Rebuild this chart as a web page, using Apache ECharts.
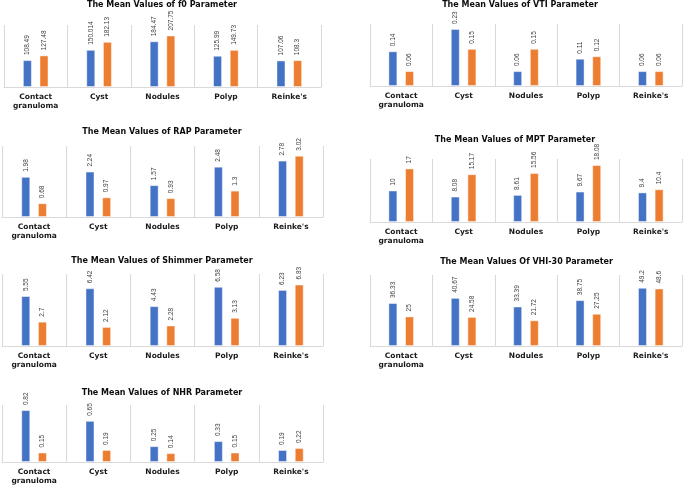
<!DOCTYPE html>
<html>
<head>
<meta charset="utf-8">
<script src="https://cdn.jsdelivr.net/npm/echarts@6/dist/echarts.min.js"></script>
<style>
html,body{margin:0;padding:0;background:#fff;}
#chart{width:685px;height:485px;}
</style>
</head>
<body>
<div id="chart"></div>
<script>
// ---- Data ----
var categories = ['Contact\ngranuloma', 'Cyst', 'Nodules', 'Polyp', "Reinke's"];

var titles = [
  'The Mean Values of f0 Parameter',
  'The Mean Values of VTI Parameter',
  'The Mean Values of RAP Parameter',
  'The Mean Values of MPT Parameter',
  'The Mean Values of Shimmer Parameter',
  'The Mean Values Of VHI-30 Parameter',
  'The Mean Values of NHR Parameter'
];

var f0Blue   = [108.49, 150.014, 184.47, 125.99, 107.06];
var f0Orange = [127.48, 182.13, 207.75, 149.73, 108.3];

var vtiBlue   = [0.14, 0.23, 0.06, 0.11, 0.06];
var vtiOrange = [0.06, 0.15, 0.15, 0.12, 0.06];

var rapBlue   = [1.98, 2.24, 1.57, 2.48, 2.78];
var rapOrange = [0.68, 0.97, 0.93, 1.3, 3.02];

var mptBlue   = [10, 8.08, 8.61, 9.67, 9.4];
var mptOrange = [17, 15.17, 15.56, 18.08, 10.4];

var shimmerBlue   = [5.55, 6.42, 4.43, 6.58, 6.23];
var shimmerOrange = [2.7, 2.12, 2.28, 3.13, 6.83];

var vhiBlue   = [36.33, 40.67, 33.39, 38.75, 49.2];
var vhiOrange = [25, 24.58, 21.72, 27.25, 48.6];

var nhrBlue   = [0.82, 0.65, 0.25, 0.33, 0.19];
var nhrOrange = [0.15, 0.19, 0.14, 0.15, 0.22];

var axisMax = [250, 0.25, 3.5, 20, 8, 60, 0.9];

// ---- Layout (styles/positions) ----
var panelData = [
  [f0Blue, f0Orange],
  [vtiBlue, vtiOrange],
  [rapBlue, rapOrange],
  [mptBlue, mptOrange],
  [shimmerBlue, shimmerOrange],
  [vhiBlue, vhiOrange],
  [nhrBlue, nhrOrange]
];
var grids = [
  {left: 4,   top: 25,  width: 317, height: 62},
  {left: 370, top: 24,  width: 312, height: 62},
  {left: 2,   top: 146, width: 321, height: 71},
  {left: 370, top: 159, width: 312, height: 63},
  {left: 2,   top: 274, width: 321, height: 72},
  {left: 370, top: 275, width: 312, height: 71},
  {left: 2,   top: 405, width: 321, height: 57}
];
var titlePos = [
  [162, 4.5], [520, 4.5], [162, 132], [515, 140], [162, 261], [526.5, 262.3], [162, 392.7]
];

var BLUE = '#4472C4', ORANGE = '#ED7D31';

var option = {
  animation: false,
  backgroundColor: '#ffffff',
  grid: [], xAxis: [], yAxis: [], series: [], graphic: []
};

for (var i = 0; i < 7; i++) {
  var g = grids[i];
  option.grid.push({left: g.left, top: g.top, width: g.width, height: g.height, containLabel: false, outerBoundsMode: 'none'});
  option.xAxis.push({
    type: 'category', gridIndex: i, data: categories,
    axisLine: {show: true, lineStyle: {color: '#d9d9d9', width: 1}},
    axisTick: {show: false},
    splitLine: {show: true, lineStyle: {color: '#d9d9d9', width: 1}},
    axisLabel: {
      interval: 0, margin: 5, color: '#1a1a1a',
      fontFamily: 'DejaVu Sans', fontWeight: 'bold', fontSize: 7.5, lineHeight: 9.5
    }
  });
  option.yAxis.push({
    type: 'value', gridIndex: i, min: 0, max: axisMax[i], show: false,
    splitLine: {show: false}
  });
  var cols = [BLUE, ORANGE];
  for (var s = 0; s < 2; s++) {
    option.series.push({
      type: 'bar', xAxisIndex: i, yAxisIndex: i,
      name: s === 0 ? 'Series 1' : 'Series 2',
      data: panelData[i][s],
      barWidth: 9, barGap: '85%',
      itemStyle: {color: cols[s], borderColor: 'rgba(255,255,255,0.45)', borderWidth: 1},
      label: {
        show: true, position: 'top', rotate: 90, align: 'left', verticalAlign: 'middle',
        distance: 5, color: '#404040', fontFamily: 'Liberation Sans', fontSize: 6.5
      }
    });
  }
  option.graphic.push({
    type: 'text', x: titlePos[i][0], y: titlePos[i][1],
    style: {
      text: titles[i], align: 'center', verticalAlign: 'middle',
      fill: '#0d0d0d', font: 'bold 8px "DejaVu Sans"'
    }
  });
}

var chart = echarts.init(document.getElementById('chart'), null, {renderer: 'canvas'});
chart.setOption(option);
</script>
</body>
</html>
